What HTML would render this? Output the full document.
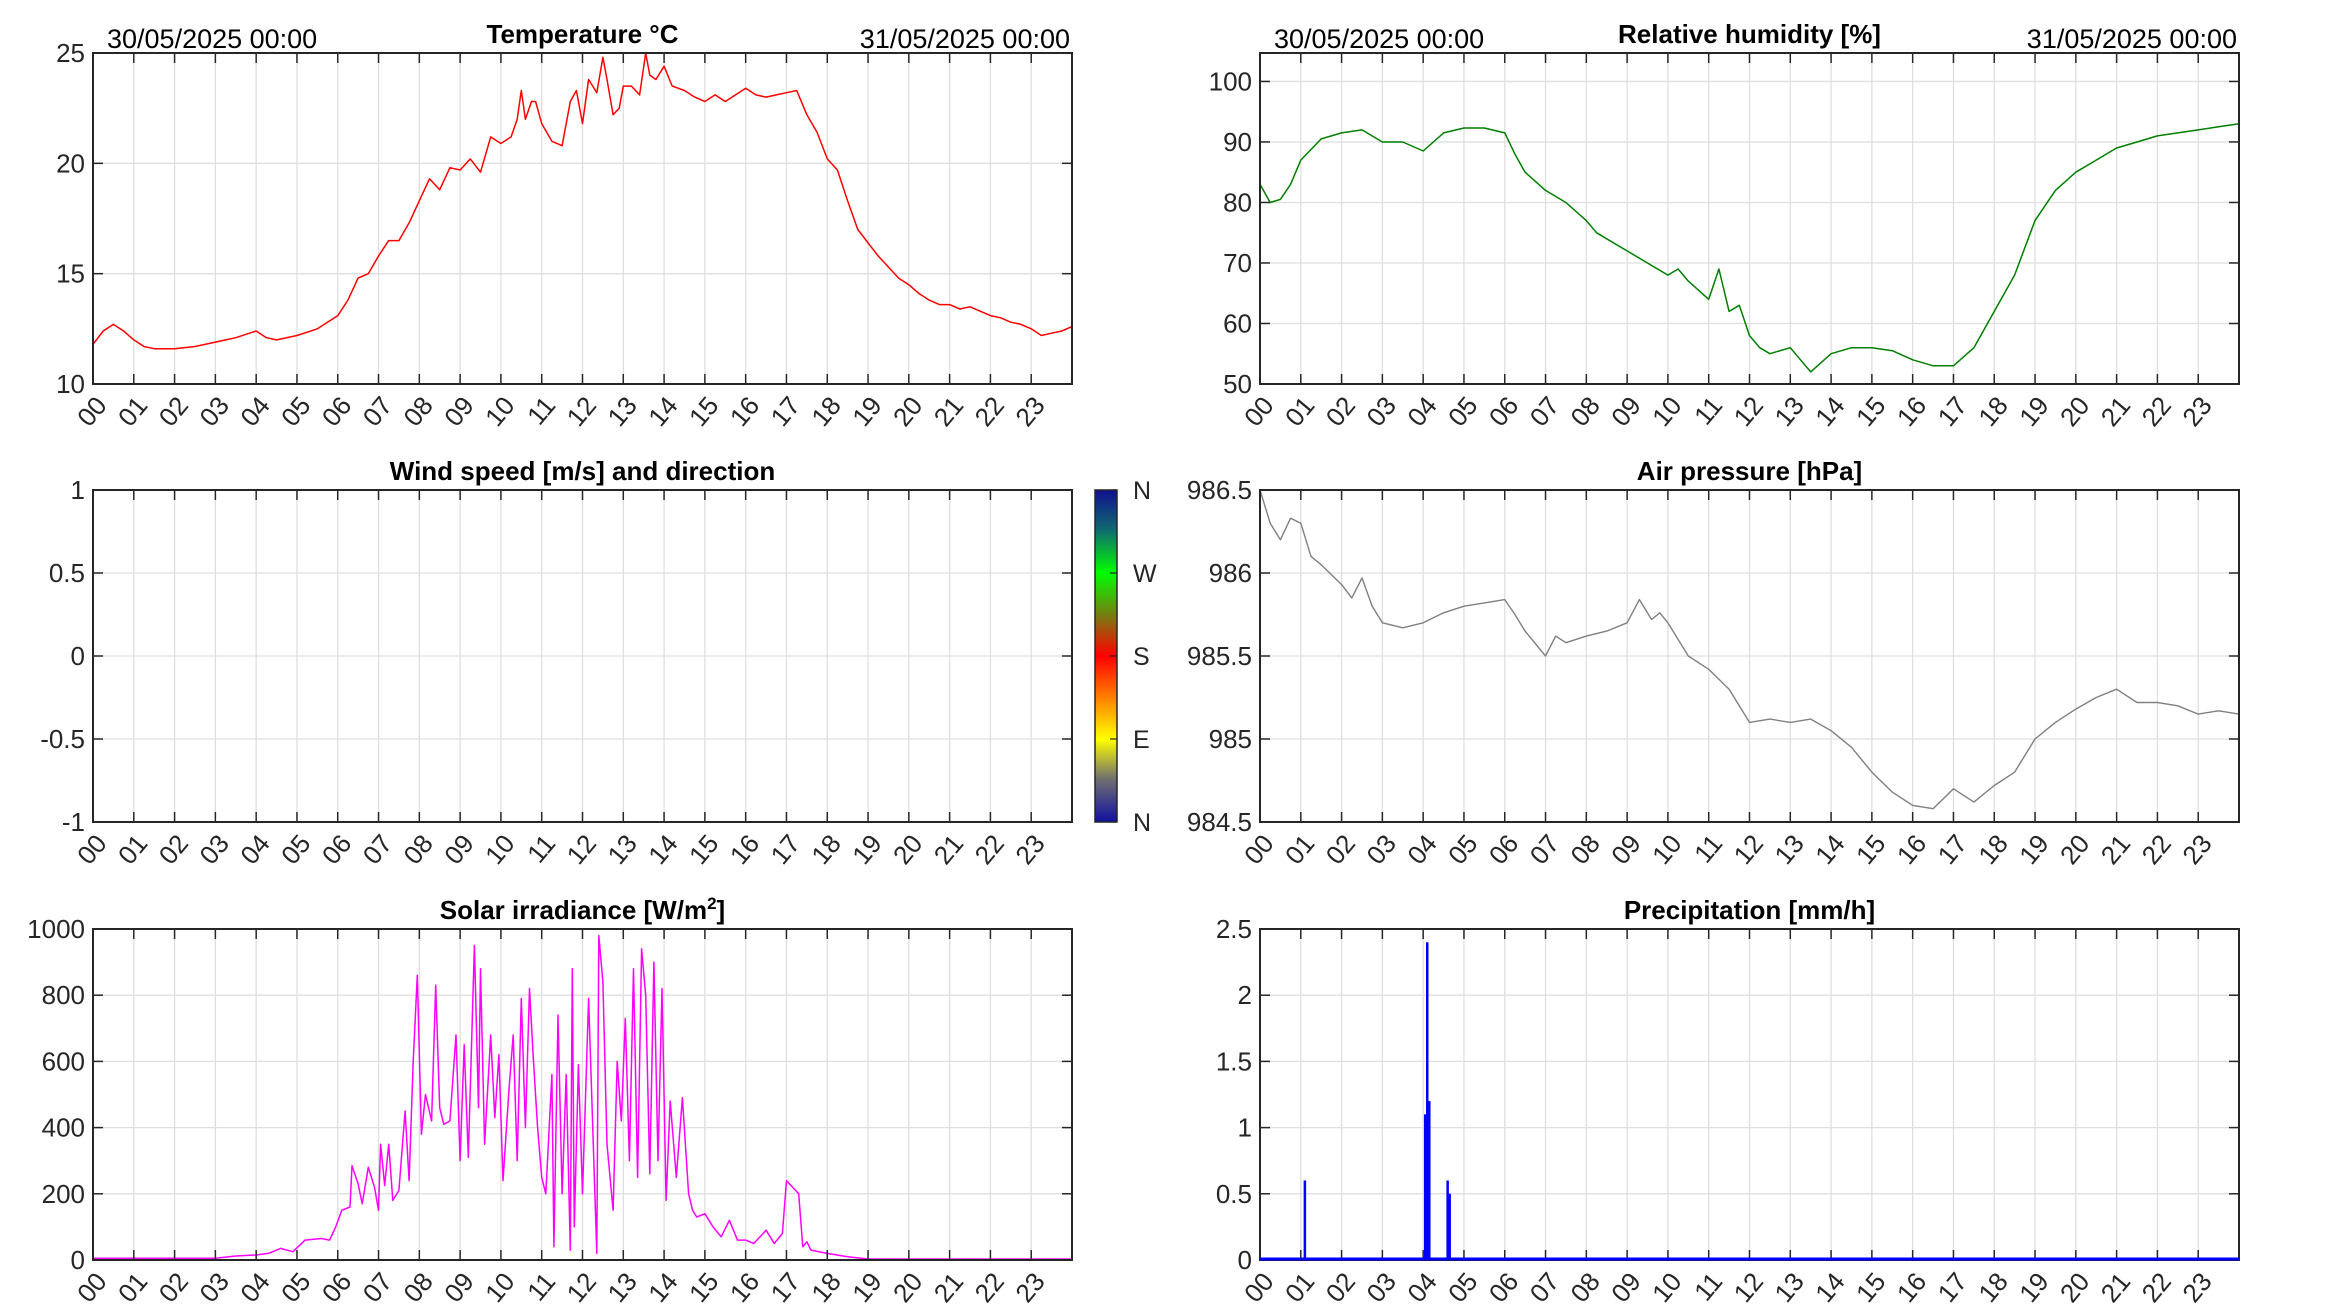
<!DOCTYPE html>
<html><head><meta charset="utf-8"><style>
html,body{margin:0;padding:0;background:#fff;}
svg{display:block;font-family:"Liberation Sans",Arial,sans-serif;}
</style></head><body>
<svg id="chart" width="2333" height="1313" viewBox="0 0 2333 1313" xmlns="http://www.w3.org/2000/svg">
<defs>
<linearGradient id="cbgrad" x1="0" y1="0" x2="0" y2="1">
<stop offset="0" stop-color="#10108f"/><stop offset="0.12" stop-color="#106a70"/><stop offset="0.25" stop-color="#00ff00"/>
<stop offset="0.38" stop-color="#7a7a10"/><stop offset="0.5" stop-color="#ff0000"/><stop offset="0.62" stop-color="#ff7a00"/>
<stop offset="0.75" stop-color="#ffff00"/><stop offset="0.87" stop-color="#707070"/><stop offset="1" stop-color="#1010a0"/>
</linearGradient>
</defs>
</svg>
<script>
// ---- data ----
const tempHours=[0,0.25,0.5,0.75,1,1.25,1.5,2,2.5,3,3.25,3.5,4,4.25,4.5,5,5.5,6,6.25,6.5,6.75,7,7.25,7.5,7.75,8,8.25,8.5,8.75,9,9.25,9.5,9.75,10,10.25,10.4,10.5,10.6,10.75,10.85,11,11.25,11.5,11.7,11.85,12,12.15,12.35,12.5,12.6,12.75,12.9,13,13.2,13.4,13.55,13.65,13.8,14,14.2,14.5,14.75,15,15.25,15.5,15.75,16,16.25,16.5,16.75,17,17.25,17.5,17.75,18,18.25,18.5,18.75,19,19.25,19.5,19.75,20,20.25,20.5,20.75,21,21.25,21.5,21.75,22,22.25,22.5,22.75,23,23.25,23.5,23.75,24];
const tempValues=[11.8,12.4,12.7,12.4,12.0,11.7,11.6,11.6,11.7,11.9,12.0,12.1,12.4,12.1,12.0,12.2,12.5,13.1,13.8,14.8,15.0,15.8,16.5,16.5,17.3,18.3,19.3,18.8,19.8,19.7,20.2,19.6,21.2,20.9,21.2,22.0,23.3,22.0,22.8,22.8,21.8,21.0,20.8,22.8,23.3,21.8,23.8,23.2,24.8,23.8,22.2,22.5,23.5,23.5,23.1,25.0,24.0,23.8,24.4,23.5,23.3,23.0,22.8,23.1,22.8,23.1,23.4,23.1,23.0,23.1,23.2,23.3,22.2,21.4,20.2,19.7,18.3,17.0,16.4,15.8,15.3,14.8,14.5,14.1,13.8,13.6,13.6,13.4,13.5,13.3,13.1,13.0,12.8,12.7,12.5,12.2,12.3,12.4,12.6];
const humHours=[0,0.25,0.5,0.75,1,1.5,2,2.5,3,3.5,4,4.5,5,5.5,6,6.25,6.5,7,7.5,8,8.25,8.5,9,9.5,10,10.25,10.5,11,11.25,11.5,11.75,12,12.25,12.5,13,13.25,13.5,14,14.5,15,15.5,16,16.5,17,17.5,18,18.5,19,19.5,20,20.5,21,21.5,22,22.5,23,23.5,24];
const humValues=[83,80,80.5,83,87,90.5,91.5,92,90,90,88.5,91.5,92.3,92.3,91.5,88,85,82,80,77,75,74,72,70,68,69,67,64,69,62,63,58,56,55,56,54,52,55,56,56,55.5,54,53,53,56,62,68,77,82,85,87,89,90,91,91.5,92,92.5,93];
const presHours=[0,0.25,0.5,0.75,1,1.25,1.5,2,2.25,2.5,2.75,3,3.5,4,4.5,5,5.5,6,6.25,6.5,7,7.25,7.5,8,8.5,9,9.3,9.6,9.8,10,10.5,11,11.5,12,12.5,13,13.5,14,14.5,15,15.5,16,16.5,17,17.5,18,18.5,19,19.5,20,20.5,21,21.5,22,22.5,23,23.5,24];
const presValues=[986.5,986.3,986.2,986.33,986.3,986.1,986.05,985.93,985.85,985.97,985.8,985.7,985.67,985.7,985.76,985.8,985.82,985.84,985.75,985.65,985.5,985.62,985.58,985.62,985.65,985.7,985.84,985.72,985.76,985.7,985.5,985.42,985.3,985.1,985.12,985.1,985.12,985.05,984.95,984.8,984.68,984.6,984.58,984.7,984.62,984.72,984.8,985.0,985.1,985.18,985.25,985.3,985.22,985.22,985.2,985.15,985.17,985.15];
const solarHours=[0,3.0,3.5,4.0,4.3,4.6,4.9,5.2,5.6,5.8,5.95,6.1,6.3,6.35,6.5,6.6,6.75,6.9,7.0,7.05,7.15,7.25,7.35,7.5,7.65,7.75,7.85,7.95,8.05,8.15,8.3,8.4,8.5,8.6,8.75,8.9,9.0,9.1,9.2,9.35,9.45,9.5,9.6,9.75,9.85,9.95,10.05,10.2,10.3,10.4,10.5,10.6,10.7,10.8,10.9,11.0,11.1,11.25,11.3,11.4,11.5,11.6,11.7,11.75,11.8,11.9,12.0,12.15,12.35,12.4,12.5,12.6,12.75,12.85,12.95,13.05,13.15,13.25,13.35,13.45,13.55,13.65,13.75,13.85,13.95,14.05,14.15,14.3,14.45,14.6,14.7,14.8,15.0,15.2,15.4,15.6,15.8,16.0,16.2,16.5,16.7,16.9,17.0,17.3,17.4,17.5,17.6,18.0,18.5,19.0,24];
const solarValues=[5,5,12,15,20,35,25,60,65,60,100,150,160,285,230,170,280,220,150,350,225,350,180,210,450,240,600,860,380,500,420,830,460,410,420,680,300,650,310,950,460,880,350,680,430,620,240,520,680,300,790,400,820,600,400,250,200,560,40,740,200,560,30,880,100,590,200,790,20,980,840,350,150,600,420,730,300,880,250,940,800,260,900,300,820,180,480,250,490,200,150,130,140,100,70,120,60,60,50,90,50,80,240,200,40,55,30,20,10,3,3];
const precHours=[1.1,4.05,4.1,4.15,4.6,4.65];
const precValues=[0.6,1.1,2.4,1.2,0.6,0.5];
const hourLabels=["00","01","02","03","04","05","06","07","08","09","10","11","12","13","14","15","16","17","18","19","20","21","22","23"];
const tempTicks=[10,15,20,25];
const humTicks=[50,60,70,80,90,100];
const windTicks=[-1,-0.5,0,0.5,1];
const presTicks=[984.5,985,985.5,986,986.5];
const solarTicks=[0,200,400,600,800,1000];
const precTicks=[0,0.5,1,1.5,2,2.5];
const cbLabels=["N","W","S","E","N"];

const NS="http://www.w3.org/2000/svg";
const svg=document.getElementById('chart');
function mk(tag,attrs,parent){const e=document.createElementNS(NS,tag);for(const k in attrs)e.setAttribute(k,attrs[k]);(parent||svg).appendChild(e);return e;}

const L={x0:93,x1:1072}, R={x0:1260,x1:2239};
const rows=[{y0:53,y1:384},{y0:490,y1:822},{y0:929,y1:1260}];

function panel(col,row,ymin,ymax,ticks,name,title,withTop){
  const p={x0:col.x0,x1:col.x1,y0:row.y0,y1:row.y1};
  const xs=h=>p.x0+(p.x1-p.x0)*h/24;
  const ys=v=>p.y1-(p.y1-p.y0)*(v-ymin)/(ymax-ymin);
  const g=mk('g',{});
  
  
  for(let i=1;i<24;i++){const x=xs(i);
    const gl=mk('line',{x1:x,x2:x,y1:p.y0,y2:p.y1,stroke:'#dfdfdf','stroke-width':1.3},g);
    }
  ticks.forEach(v=>{const y=ys(v);
    const gl=mk('line',{x1:p.x0,x2:p.x1,y1:y,y2:y,stroke:'#dfdfdf','stroke-width':1.3},g);
    });
  return {p,xs,ys,g,finish:()=>{
    for(let i=0;i<24;i++){const x=xs(i);
      mk('line',{x1:x,x2:x,y1:p.y1,y2:p.y1-10,stroke:'#262626','stroke-width':1.5},g);
      mk('line',{x1:x,x2:x,y1:p.y0,y2:p.y0+10,stroke:'#262626','stroke-width':1.5},g);
      const t=mk('text',{x:0,y:0,'font-size':26,fill:'#262626','text-anchor':'end',transform:`translate(${x+15},${p.y1+22}) rotate(-50)`},g);
      t.textContent=hourLabels[i];
      }
    ticks.forEach(v=>{const y=ys(v);
      mk('line',{x1:p.x0,x2:p.x0+10,y1:y,y2:y,stroke:'#262626','stroke-width':1.5},g);
      mk('line',{x1:p.x1,x2:p.x1-10,y1:y,y2:y,stroke:'#262626','stroke-width':1.5},g);
      const t=mk('text',{x:p.x0-8,y:y+9,'font-size':26,fill:'#262626','text-anchor':'end'},g);
      t.textContent=String(v);
      });
    const fr=mk('rect',{x:p.x0,y:p.y0,width:p.x1-p.x0,height:p.y1-p.y0,fill:'none',stroke:'#262626','stroke-width':2},g);
    
    const tt=mk('text',{x:(p.x0+p.x1)/2,y:p.y0-10,'font-size':26,'font-weight':'bold',fill:'#000','text-anchor':'middle'},g);
    tt.innerHTML=title;
    
    if(withTop){
      const a=mk('text',{x:p.x0+14,y:p.y0-5,'font-size':27,fill:'#000'},g);a.textContent='30/05/2025 00:00';
      
      const b=mk('text',{x:p.x1-2,y:p.y0-5,'font-size':27,fill:'#000','text-anchor':'end'},g);b.textContent='31/05/2025 00:00';
      
    }
  }};
}
function line(P,hours,vals,color,name,w){
  const d=hours.map((h,i)=>(i?'L':'M')+P.xs(h).toFixed(1)+','+P.ys(vals[i]).toFixed(1)).join('');
  const e=mk('path',{d,fill:'none',stroke:color,'stroke-width':w||1.5,'stroke-linejoin':'round'},P.g);
  
  
}

let P=panel(L,rows[0],10,25,tempTicks,'temperature','Temperature °C',true);
line(P,tempHours,tempValues,'#ff0000','temperature-line');P.finish();

P=panel(R,rows[0],50,104.7,humTicks,'humidity','Relative humidity [%]',true);
line(P,humHours,humValues,'#007f00','humidity-line');P.finish();

P=panel(L,rows[1],-1,1,windTicks,'wind','Wind speed [m/s] and direction',false);P.finish();
const cb=mk('rect',{x:1095,y:490,width:22,height:332,fill:'url(#cbgrad)',stroke:'#262626','stroke-width':1.5});

cbLabels.forEach((s,i)=>{const y=490+332*i/4;
  mk('line',{x1:1110,x2:1117,y1:y,y2:y,stroke:'#262626','stroke-width':1.2});
  const t=mk('text',{x:1133,y:y+9,'font-size':25,fill:'#262626'});t.textContent=s;
  });

P=panel(R,rows[1],984.5,986.5,presTicks,'pressure','Air pressure [hPa]',false);
line(P,presHours,presValues,'#808080','pressure-line',1.4);P.finish();

P=panel(L,rows[2],0,1000,solarTicks,'solar','Solar irradiance [W/m<tspan font-size="17" dy="-10">2</tspan><tspan dy="10">]</tspan>',false);
line(P,solarHours,solarValues,'#ff00ff','solar-line',1.5);P.finish();

P=panel(R,rows[2],0,2.5,precTicks,'precipitation','Precipitation [mm/h]',false);
precHours.forEach((h,i)=>{
  const b=mk('line',{x1:P.xs(h),x2:P.xs(h),y1:P.ys(0),y2:P.ys(precValues[i]),stroke:'#0000ff','stroke-width':2.5},P.g);
  
  
});
P.finish();
const base=mk('line',{x1:P.p.x0,x2:P.p.x1,y1:P.ys(0)-1,y2:P.ys(0)-1,stroke:'#0000ff','stroke-width':3},P.g);


</script>
</body></html>
